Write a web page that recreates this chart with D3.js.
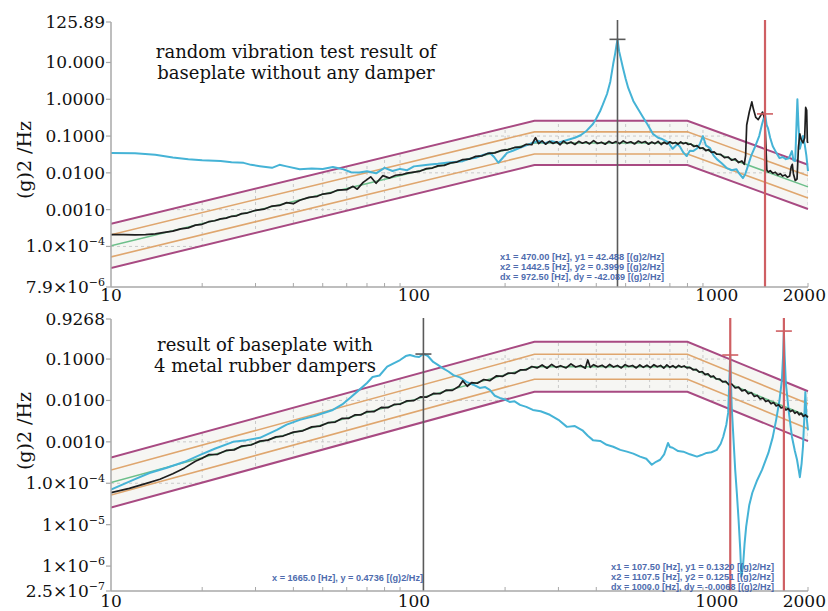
<!DOCTYPE html>
<html>
<head>
<meta charset="utf-8">
<script src="https://cdn.jsdelivr.net/npm/d3@7"></script>
<style>
  body { margin: 0; background: #fff; }
  svg { display: block; }
</style>
</head>
<body>
<svg id="chart" width="828" height="611"></svg>
<script>
// --------------- Data ---------------
const FREQ_TICKS = [10, 100, 1000, 2000];
const FREQ_LABELS = ["10", "100", "1000", "2000"];
const FREQ_MINOR = [20, 30, 40, 50, 60, 70, 80, 90, 200, 300, 400, 500, 600, 700, 800, 900, 2000];

// test profile (reference PSD) and its +-3 dB / +-6 dB limits
const profileFreq = [10, 250, 800, 2000];
const profilePsd = [1.04e-4, 0.065, 0.065, 0.00416];
const toleranceFactors = [0.25, 0.5, 1, 2, 4];

const topYTicks = [125.89, 10, 1, 0.1, 0.01, 0.001, 1e-4, 7.9e-6];
const topYLabels = ["125.89", "10.000", "1.0000", "0.1000", "0.0100", "0.0010", "1.0×10^-4", "7.9×10^-6"];
const bottomYTicks = [0.9268, 0.1, 0.01, 0.001, 1e-4, 1e-5, 1e-6, 2.5e-7];
const bottomYLabels = ["0.9268", "0.1000", "0.0100", "0.0010", "1.0×10^-4", "1×10^-5", "1×10^-6", "2.5×10^-7"];

const topTitle = ["random vibration test result of", "baseplate without any damper"];
const bottomTitle = ["result of baseplate with", "4 metal rubber dampers"];

const topCursorFreq = [470, 1442.5];
const topCursorPsd = [42.488, 0.3999];
const bottomCursorFreq = [107.5, 1107.5, 1665];
const bottomCursorPsd = [0.1320, 0.1251, 0.4736];

const topReadout = [
  "x1 = 470.00 [Hz], y1 = 42.488 [(g)2/Hz]",
  "x2 = 1442.5 [Hz], y2 = 0.3999 [(g)2/Hz]",
  "dx = 972.50 [Hz], dy = -42.089 [(g)2/Hz]"
];
const bottomReadoutSingle = ["x = 1665.0 [Hz], y = 0.4736 [(g)2/Hz]"];
const bottomReadout = [
  "x1 = 107.50 [Hz], y1 = 0.1320 [(g)2/Hz]",
  "x2 = 1107.5 [Hz], y2 = 0.1251 [(g)2/Hz]",
  "dx = 1000.0 [Hz], dy = -0.0068 [(g)2/Hz]"
];

// measured control (black) and response (cyan), [Hz, g^2/Hz]
const topControl = [[10,2.1e-4],[11,2.1e-4],[12,2.05e-4],[13,2.1e-4],[14,2.2e-4],[15,2.4e-4],[16,2.6e-4],[17,3.0e-4],[18,3.2e-4],[19,3.8e-4],[20,4.0e-4],[21,4.7e-4],[22,5.0e-4],[23,5.6e-4],[24,5.9e-4],[25,6.6e-4],[26,6.8e-4],[27,7.8e-4],[28,8.0e-4],[30,9.6e-4],[32,1.03e-3],[34,1.25e-3],[36,1.30e-3],[38,1.55e-3],[40,1.45e-3],[42,1.80e-3],[45,2.15e-3],[48,2.3e-3],[50,2.65e-3],[53,2.8e-3],[56,3.4e-3],[60,3.5e-3],[63,4.3e-3],[65,3.6e-3],[68,5.5e-3],[72,7.8e-3],[75,5.2e-3],[79,8.4e-3],[83,7.2e-3],[87,8.6e-3],[91,8.9e-3],[95,9.8e-3],[100,1.05e-2],[105,1.12e-2],[110,1.30e-2],[115,1.35e-2],[120,1.55e-2],[126,1.60e-2],[132,1.85e-2],[138,1.95e-2],[145,2.3e-2],[152,2.35e-2],[160,2.8e-2],[168,2.9e-2],[176,3.4e-2],[185,3.5e-2],[195,4.1e-2],[205,4.3e-2],[215,4.9e-2],[225,5.0e-2],[235,6.0e-2],[245,5.8e-2],[252,9.0e-2],[258,6.2e-2],[265,7.4e-2],[272,6.0e-2],[280,7.2e-2],[288,6.3e-2],[296,7.0e-2],[304,5.8e-2],[312,7.3e-2],[320,6.2e-2],[330,6.9e-2],[340,5.9e-2],[350,7.2e-2],[360,6.4e-2],[370,7.0e-2],[380,6.1e-2],[392,7.5e-2],[404,6.3e-2],[416,6.8e-2],[428,6.0e-2],[440,7.2e-2],[452,6.4e-2],[465,7.1e-2],[478,6.2e-2],[491,7.4e-2],[505,6.5e-2],[520,7.0e-2],[535,6.1e-2],[550,7.3e-2],[565,6.6e-2],[580,7.1e-2],[595,6.0e-2],[610,6.9e-2],[625,6.2e-2],[640,7.2e-2],[655,5.9e-2],[670,6.8e-2],[685,6.1e-2],[700,7.0e-2],[715,6.3e-2],[730,6.7e-2],[745,6.0e-2],[760,6.9e-2],[775,6.2e-2],[790,6.6e-2],[805,5.9e-2],[820,6.1e-2],[840,5.2e-2],[860,5.5e-2],[880,4.6e-2],[900,4.8e-2],[920,4.0e-2],[940,4.3e-2],[960,3.6e-2],[980,3.7e-2],[1000,3.2e-2],[1030,3.2e-2],[1060,2.6e-2],[1090,2.7e-2],[1120,2.2e-2],[1150,2.4e-2],[1180,1.9e-2],[1210,2.1e-2],[1232,1.7e-2],[1245,0.03],[1255,0.2],[1280,0.45],[1305,0.85],[1320,0.55],[1345,0.32],[1370,0.28],[1395,0.36],[1415,0.45],[1440,0.3],[1452,0.06],[1462,0.012],[1480,0.0105],[1500,0.0115],[1530,0.0098],[1560,0.0104],[1590,0.0088],[1620,0.0095],[1650,0.0082],[1680,0.0088],[1710,0.0076],[1740,0.0082],[1760,0.0145],[1775,0.017],[1790,0.0095],[1815,0.0062],[1840,0.0068],[1860,0.05],[1880,0.115],[1900,0.08],[1925,0.065],[1950,0.09],[1965,0.6],[1980,0.5],[1990,0.07],[2000,0.065]];

const topResponse = [[10,0.0344],[12,0.034],[14,0.031],[16,0.026],[18,0.0235],[20,0.022],[23,0.021],[25,0.0195],[27.4,0.0187],[29,0.0165],[31,0.0152],[34,0.0137],[36,0.0165],[38,0.0150],[42,0.0126],[46,0.0132],[50,0.0128],[54,0.0145],[58,0.0128],[62,0.0104],[66,0.0102],[70,0.0110],[75,0.0097],[80,0.0137],[85,0.0112],[90,0.0128],[95,0.0118],[100,0.0150],[106,0.0158],[113,0.0168],[120,0.0176],[128,0.0188],[136,0.0198],[145,0.0208],[152,0.0240],[160,0.0256],[168,0.0300],[178,0.0350],[184,0.0270],[190,0.0188],[196,0.0250],[203,0.0350],[212,0.0400],[224,0.0480],[235,0.0560],[247,0.0660],[258,0.0740],[270,0.0640],[285,0.0720],[300,0.0660],[321,0.0780],[340,0.0900],[355,0.1050],[372,0.140],[390,0.212],[400,0.30],[412,0.48],[420,0.70],[434,1.39],[445,3.0],[455,9.2],[462,18],[466,28],[470,42.488],[476,20],[490,7.1],[500,3.6],[510,2.03],[530,0.90],[547,0.58],[570,0.33],[590,0.21],[615,0.115],[640,0.090],[660,0.083],[690,0.068],[715,0.045],[740,0.060],[755,0.052],[775,0.036],[795,0.0286],[815,0.040],[835,0.039],[860,0.046],[880,0.062],[900,0.10],[920,0.056],[950,0.047],[975,0.030],[1000,0.0236],[1040,0.018],[1080,0.0134],[1120,0.0118],[1160,0.0126],[1190,0.0092],[1220,0.0072],[1240,0.0090],[1260,0.0134],[1300,0.030],[1340,0.0534],[1380,0.10],[1410,0.21],[1442.5,0.3999],[1460,0.20],[1475,0.165],[1500,0.090],[1530,0.053],[1570,0.036],[1610,0.0252],[1650,0.027],[1690,0.0236],[1730,0.025],[1770,0.039],[1790,0.022],[1815,0.021],[1832,0.20],[1845,1.0],[1860,0.20],[1880,0.045],[1905,0.07],[1925,0.10],[1950,0.06],[1975,0.030],[2000,0.0112]];

const bottomControl = [[10,5.9e-5],[11.5,7.5e-5],[13,9.8e-5],[14.5,1.25e-4],[16,1.7e-4],[17.5,2.35e-4],[19,3.4e-4],[20,4.0e-4],[21,4.9e-4],[22.5,5.0e-4],[24,6.2e-4],[25.5,6.4e-4],[27,7.9e-4],[29,8.4e-4],[31,1.04e-3],[33,1.10e-3],[35,1.32e-3],[37,1.38e-3],[40,1.72e-3],[43,1.85e-3],[46,2.3e-3],[49,2.4e-3],[52,2.9e-3],[55,3.0e-3],[58,3.7e-3],[61,3.7e-3],[64,4.5e-3],[67,4.5e-3],[70,5.4e-3],[74,5.4e-3],[78,6.8e-3],[82,6.7e-3],[86,8.0e-3],[90,8.1e-3],[95,9.8e-3],[100,9.9e-3],[105,1.22e-2],[110,1.20e-2],[116,1.48e-2],[122,1.45e-2],[128,1.78e-2],[134,1.75e-2],[141,2.2e-2],[145,3.0e-2],[150,2.2e-2],[155,2.7e-2],[162,2.6e-2],[170,3.2e-2],[178,3.0e-2],[187,3.9e-2],[196,3.8e-2],[205,4.6e-2],[215,4.5e-2],[225,5.5e-2],[235,5.5e-2],[245,6.6e-2],[255,6.1e-2],[265,7.2e-2],[275,6.0e-2],[285,7.4e-2],[295,6.3e-2],[305,6.9e-2],[318,6.1e-2],[330,7.6e-2],[342,6.4e-2],[355,7.0e-2],[368,6.0e-2],[375,9.5e-2],[382,6.3e-2],[392,7.3e-2],[405,6.5e-2],[418,7.1e-2],[430,6.2e-2],[443,7.4e-2],[456,6.4e-2],[470,7.0e-2],[484,6.1e-2],[498,7.3e-2],[512,6.6e-2],[527,7.0e-2],[542,6.1e-2],[557,7.2e-2],[572,6.3e-2],[588,7.1e-2],[604,6.2e-2],[620,7.3e-2],[636,6.5e-2],[652,7.0e-2],[668,6.0e-2],[684,7.2e-2],[700,6.3e-2],[716,6.9e-2],[732,6.1e-2],[748,7.0e-2],[764,6.4e-2],[780,6.8e-2],[796,6.1e-2],[815,6.3e-2],[835,5.5e-2],[855,5.6e-2],[875,4.8e-2],[895,5.0e-2],[915,4.2e-2],[935,4.4e-2],[955,3.7e-2],[975,3.9e-2],[995,3.3e-2],[1020,3.3e-2],[1045,2.8e-2],[1070,2.9e-2],[1095,2.4e-2],[1120,2.5e-2],[1150,2.0e-2],[1180,2.1e-2],[1210,1.7e-2],[1240,1.8e-2],[1270,1.45e-2],[1300,1.55e-2],[1330,1.25e-2],[1360,1.32e-2],[1390,1.08e-2],[1420,1.14e-2],[1450,9.4e-3],[1480,1.0e-2],[1510,8.3e-3],[1540,8.9e-3],[1570,7.4e-3],[1600,7.9e-3],[1630,6.6e-3],[1660,7.0e-3],[1690,5.9e-3],[1720,6.4e-3],[1750,5.4e-3],[1780,5.8e-3],[1810,4.9e-3],[1840,5.3e-3],[1870,4.5e-3],[1900,4.9e-3],[1930,4.1e-3],[1960,4.5e-3],[2000,3.9e-3]];

const bottomResponse = [[10,7.0e-5],[11.9,1.22e-4],[13.4,1.77e-4],[15.3,2.36e-4],[17.5,3.3e-4],[19.7,4.86e-4],[22,6.8e-4],[25.3,1.0e-3],[28,1.1e-3],[31,1.25e-3],[35.3,1.95e-3],[38,2.6e-3],[42,3.39e-3],[47,4.2e-3],[54,5.9e-3],[58,8.0e-3],[61.5,0.0115],[66,0.018],[70,0.0264],[73,0.0368],[77,0.040],[81.6,0.0653],[86,0.080],[90,0.0946],[94,0.118],[97,0.125],[101,0.115],[104,0.112],[107.5,0.1320],[111,0.120],[115.8,0.085],[120,0.072],[124,0.061],[130,0.050],[135,0.041],[142,0.036],[149,0.028],[157,0.024],[165,0.020],[172,0.021],[178,0.018],[185,0.013],[192,0.0115],[200,0.0105],[207,0.0092],[215,0.0095],[224,0.0078],[235,0.0070],[247,0.0059],[262,0.0055],[281,0.0045],[300,0.0034],[320,0.0023],[340,0.0024],[360,0.0019],[375,0.0014],[390,0.0011],[412,0.00105],[433,8.5e-4],[455,7.6e-4],[480,6.4e-4],[505,5.8e-4],[530,5.2e-4],[558,4.4e-4],[585,3.9e-4],[610,2.8e-4],[630,3.3e-4],[650,3.7e-4],[670,5.0e-4],[690,9.4e-4],[700,7.5e-4],[715,7.2e-4],[745,6.0e-4],[775,5.8e-4],[815,5.0e-4],[860,4.4e-4],[890,4.8e-4],[925,5.4e-4],[960,5.6e-4],[1000,6.4e-4],[1030,9.0e-4],[1050,1.33e-3],[1075,2.6e-3],[1090,5.0e-3],[1100,0.030],[1107.5,0.1251],[1113,0.030],[1120,0.0070],[1135,1.2e-3],[1150,2.1e-4],[1165,5.5e-5],[1180,1.3e-5],[1195,2.5e-6],[1205,5.6e-7],[1220,9.7e-7],[1235,3.5e-6],[1250,9.0e-6],[1280,3.0e-5],[1310,5.9e-5],[1360,1.2e-4],[1410,2.1e-4],[1480,5.4e-4],[1530,1.3e-3],[1570,3.4e-3],[1610,0.010],[1640,0.031],[1655,0.12],[1665,0.4736],[1675,0.12],[1690,0.0264],[1730,5.0e-3],[1770,1.33e-3],[1810,6.0e-4],[1840,3.7e-4],[1880,1.4e-4],[1905,3.0e-4],[1925,7.6e-4],[1945,4.0e-3],[1960,0.016],[1975,0.0045],[2000,0.0019]];

// --------------- Styles ---------------
const SERIF = "'DejaVu Serif', 'Liberation Serif', serif";
const AXIS_COLOR = "#a8a8a8";
const PURPLE = "#a84a82";
const ORANGE = "#dfa66e";
const GREEN = "#6cbf8a";
const CYAN = "#45b3d6";
const BLACK = "#1e1e1e";
const CURSOR_GREY = "#5a5a5a";
const CURSOR_RED = "#cf5f63";
const READOUT_BLUE = "#3b5ca6";
const BAND_STYLE = [
  { color: PURPLE, width: 2 },
  { color: ORANGE, width: 1.6 },
  { color: GREEN, width: 1.5 },
  { color: ORANGE, width: 1.6 },
  { color: PURPLE, width: 2 }
];

const svg = d3.select("#chart");
const x = d3.scaleLog().domain([10, 2000]).range([111, 808]);
const profile = profileFreq.map((f, i) => [f, profilePsd[i]]);

function writeTickLabel(sel, label) {
  const parts = label.split("^");
  sel.append("tspan").text(parts[0]);
  if (parts.length > 1) {
    sel.append("tspan")
      .attr("dy", -7)
      .attr("font-size", 11)
      .text(parts[1].replace("-", "\u2212"));
  }
}

function drawPanel(p) {
  const y = d3.scaleLog().domain(p.yDomain).range(p.yRange);
  const [yBottom, yTop] = p.yRange;
  const g = svg.append("g");

  const clip = g.append("clipPath").attr("id", p.id + "-clip");
  clip.append("rect")
    .attr("x", x(10)).attr("y", yTop - 4)
    .attr("width", x(2000) - x(10) + 1).attr("height", yBottom - yTop + 4);

  const bandId = p.id + "-band";
  const bandArea = d3.area()
    .x((d) => x(d[0]))
    .y0((d) => y(d[1] * toleranceFactors[0]))
    .y1((d) => y(d[1] * toleranceFactors[toleranceFactors.length - 1]));
  g.append("clipPath").attr("id", bandId)
    .append("path").attr("d", bandArea(profile));

  // faint band fill and dashed grid inside the tolerance band
  g.append("path").attr("d", bandArea(profile)).attr("fill", "#f6f6f3");
  const grid = g.append("g").attr("clip-path", `url(#${bandId})`)
    .attr("stroke", "#c9c9c9").attr("stroke-width", 1).attr("stroke-dasharray", "3,3");
  grid.selectAll("line.v").data(FREQ_MINOR).enter().append("line")
    .attr("x1", (d) => x(d)).attr("x2", (d) => x(d))
    .attr("y1", yTop).attr("y2", yBottom);
  grid.selectAll("line.h").data(p.gridPsd).enter().append("line")
    .attr("x1", x(10)).attr("x2", x(2000))
    .attr("y1", (d) => y(d)).attr("y2", (d) => y(d));

  // tolerance lines
  const lines = g.append("g").attr("clip-path", `url(#${p.id}-clip)`).attr("fill", "none");
  toleranceFactors.forEach((k, i) => {
    const line = d3.line().x((d) => x(d[0])).y((d) => y(d[1] * k));
    lines.append("path")
      .attr("d", line(profile))
      .attr("stroke", BAND_STYLE[i].color)
      .attr("stroke-width", BAND_STYLE[i].width);
  });

  // measured curves
  const curve = d3.line().x((d) => x(d[0])).y((d) => y(d[1]));
  lines.append("path").attr("d", curve(p.response))
    .attr("stroke", CYAN).attr("stroke-width", 2).attr("stroke-linejoin", "round");
  lines.append("path").attr("d", curve(p.control))
    .attr("stroke", BLACK).attr("stroke-width", 1.7).attr("stroke-linejoin", "round");

  // cursors
  p.cursorFreq.forEach((f, i) => {
    const color = p.cursorColor[i];
    g.append("line")
      .attr("x1", x(f)).attr("x2", x(f))
      .attr("y1", p.cursorTop).attr("y2", yBottom)
      .attr("stroke", color).attr("stroke-width", color === CURSOR_RED ? 2.2 : 1.6);
    g.append("line")
      .attr("x1", x(f) - 8).attr("x2", x(f) + 8)
      .attr("y1", y(p.cursorPsd[i])).attr("y2", y(p.cursorPsd[i]))
      .attr("stroke", color).attr("stroke-width", 1.6);
  });

  // axes
  g.append("line").attr("x1", x(10)).attr("x2", x(10))
    .attr("y1", yTop).attr("y2", yBottom)
    .attr("stroke", AXIS_COLOR).attr("stroke-width", 1.5);
  g.append("line").attr("x1", x(10)).attr("x2", x(2000))
    .attr("y1", yBottom).attr("y2", yBottom)
    .attr("stroke", AXIS_COLOR).attr("stroke-width", 1.5);
  g.selectAll("line.xt").data(FREQ_MINOR).enter().append("line")
    .attr("x1", (d) => x(d)).attr("x2", (d) => x(d))
    .attr("y1", yBottom).attr("y2", yBottom - 4)
    .attr("stroke", AXIS_COLOR).attr("stroke-width", 1);
  g.selectAll("line.yt").data(p.yTicks).enter().append("line")
    .attr("x1", x(10) - 5).attr("x2", x(10))
    .attr("y1", (d) => y(d)).attr("y2", (d) => y(d))
    .attr("stroke", AXIS_COLOR).attr("stroke-width", 1.2);

  g.selectAll("text.yl").data(p.yTicks).enter().append("text")
    .attr("x", x(10) - 6).attr("y", (d) => y(d) + 6)
    .attr("text-anchor", "end")
    .attr("font-family", SERIF).attr("font-size", 17).attr("fill", "#111")
    .each(function (d, i) { writeTickLabel(d3.select(this), p.yLabels[i]); });

  // last label is kept inside the window, as in the reference
  g.selectAll("text.xl").data(FREQ_TICKS).enter().append("text")
    .attr("x", (d, i) => (i === FREQ_TICKS.length - 1 ? 826 : x(d)))
    .attr("y", yBottom + p.xLabelDy)
    .attr("text-anchor", (d, i) => (i === FREQ_TICKS.length - 1 ? "end" : "middle"))
    .attr("font-family", SERIF).attr("font-size", 17).attr("fill", "#111")
    .text((d, i) => FREQ_LABELS[i]);

  g.append("text")
    .attr("transform", `translate(31,${p.yLabelMid}) rotate(-90)`)
    .attr("text-anchor", "middle")
    .attr("font-family", SERIF).attr("font-size", 19).attr("fill", "#111")
    .text("(g)2 /Hz");

  // title
  p.title.forEach((t, i) => {
    g.append("text")
      .attr("x", p.titleX).attr("y", p.titleY + i * 21)
      .attr("text-anchor", "middle")
      .attr("font-family", SERIF).attr("font-size", 18).attr("fill", "#111")
      .text(t);
  });

  // cursor readouts
  p.readouts.forEach((r) => {
    r.lines.forEach((t, i) => {
      g.append("text")
        .attr("x", r.x).attr("y", r.y + i * 10)
        .attr("font-family", "'Liberation Sans', Arial, sans-serif")
        .attr("font-weight", "bold").attr("font-size", 8.5)
        .attr("fill", READOUT_BLUE).attr("opacity", 0.9)
        .attr("textLength", r.width).attr("lengthAdjust", "spacingAndGlyphs")
        .text(t);
    });
  });
}

drawPanel({
  id: "top",
  yDomain: [7.9e-6, 125.89], yRange: [287, 22],
  yTicks: topYTicks, yLabels: topYLabels,
  gridPsd: [10, 1, 0.1, 0.01, 0.001, 1e-4],
  control: topControl, response: topResponse,
  cursorFreq: topCursorFreq, cursorPsd: topCursorPsd,
  cursorColor: [CURSOR_GREY, CURSOR_RED], cursorTop: 20,
  title: topTitle, titleX: 296, titleY: 58,
  yLabelMid: 160, xLabelDy: 14,
  readouts: [{ x: 500, y: 260, width: 164, lines: topReadout }]
});

drawPanel({
  id: "bottom",
  yDomain: [2.5e-7, 0.9268], yRange: [591, 319],
  yTicks: bottomYTicks, yLabels: bottomYLabels,
  gridPsd: [0.1, 0.01, 0.001, 1e-4, 1e-5, 1e-6],
  control: bottomControl, response: bottomResponse,
  cursorFreq: bottomCursorFreq, cursorPsd: bottomCursorPsd,
  cursorColor: [CURSOR_GREY, CURSOR_RED, CURSOR_RED], cursorTop: 318,
  title: bottomTitle, titleX: 265, titleY: 351,
  yLabelMid: 431, xLabelDy: 16,
  readouts: [
    { x: 272, y: 581, width: 151, lines: bottomReadoutSingle },
    { x: 611, y: 570, width: 163, lines: bottomReadout }
  ]
});
</script>
</body>
</html>
